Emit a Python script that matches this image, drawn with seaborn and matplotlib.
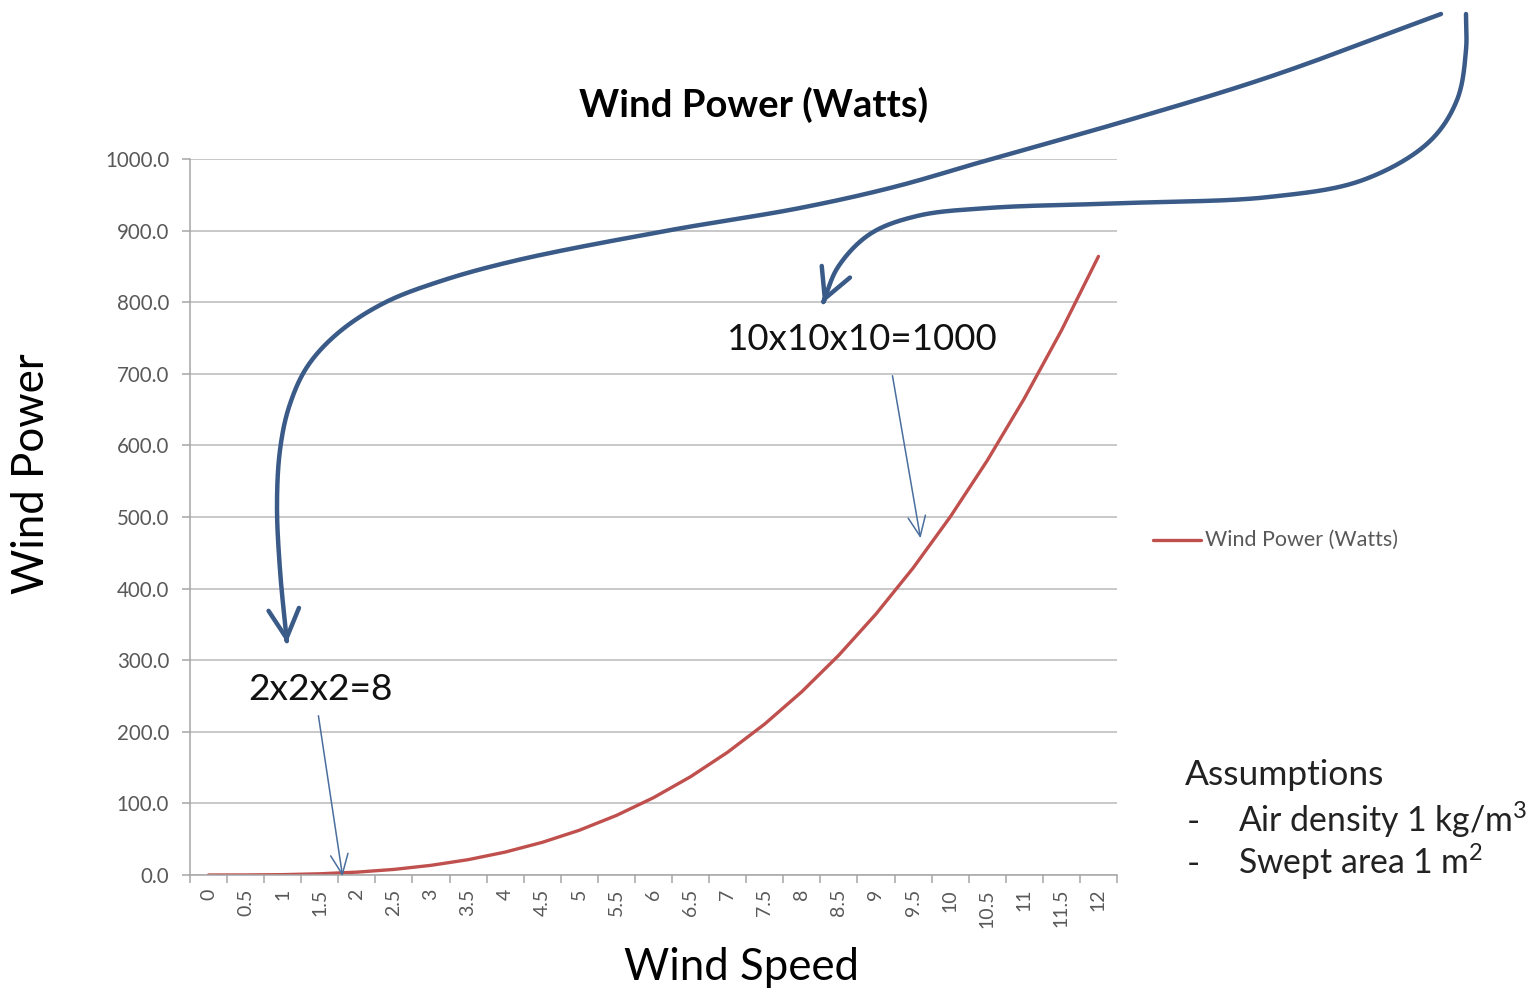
import numpy as np
import pandas as pd
import matplotlib
matplotlib.use("Agg")
import matplotlib.pyplot as plt
import seaborn as sns
from matplotlib.path import Path
from matplotlib.patches import FancyArrowPatch
from matplotlib.ticker import FixedLocator

# ---------------- data ----------------
wind_speed_labels = ["0", "0.5", "1", "1.5", "2", "2.5", "3", "3.5", "4", "4.5", "5",
                     "5.5", "6", "6.5", "7", "7.5", "8", "8.5", "9", "9.5", "10",
                     "10.5", "11", "11.5", "12"]
wind_power = [0.0, 0.06, 0.5, 1.7, 4.0, 7.8, 13.5, 21.4, 32.0, 45.6, 62.5, 83.2,
              108.0, 137.3, 171.5, 210.9, 256.0, 307.1, 364.5, 428.7, 500.0,
              578.8, 665.5, 760.4, 864.0]
y_tick_values = [0, 100, 200, 300, 400, 500, 600, 700, 800, 900, 1000]
y_tick_labels = ["0.0", "100.0", "200.0", "300.0", "400.0", "500.0", "600.0",
                 "700.0", "800.0", "900.0", "1000.0"]
series_name = "Wind Power (Watts)"

# ---------------- style ----------------
sns.set_theme(style="white")
plt.rcParams["font.family"] = ["Lato", "DejaVu Sans"]
plt.rcParams["mathtext.fontset"] = "custom"
plt.rcParams["mathtext.rm"] = "Lato"
plt.rcParams["mathtext.it"] = "Lato:italic"
plt.rcParams["mathtext.bf"] = "Lato:bold"

W, H = 1535, 992
fig = plt.figure(figsize=(W / 100, H / 100), dpi=100)
fig.patch.set_facecolor("white")


def fx(x):
    return x / W


def fy(y):
    return 1 - y / H


ax = fig.add_axes([fx(190), fy(875), fx(1117) - fx(190), fy(159) - fy(875)])

df = pd.DataFrame({"pos": np.arange(len(wind_speed_labels)),
                   "power": wind_power,
                   "series": series_name})
sns.lineplot(data=df, x="pos", y="power", hue="series", palette=["#C0504D"],
             linewidth=2.4, ax=ax, legend=False)

ax.set_xlim(-0.5, len(wind_speed_labels) - 0.5)
ax.set_ylim(0, 1000)
ax.set_xlabel("")
ax.set_ylabel("")

# y axis
ax.set_yticks(y_tick_values)
ax.set_yticklabels(y_tick_labels, fontsize=14.8, color="#595959")
ax.yaxis.grid(True, color="#C4C4C4", linewidth=1.3)
ax.xaxis.grid(False)
ax.tick_params(axis="y", length=6, width=1.1, color="#A6A6A6", left=True, pad=9)

# x axis (category axis, ticks between categories)
ax.set_xticks(np.arange(len(wind_speed_labels)))
ax.set_xticklabels(wind_speed_labels, rotation=90, fontsize=14, color="#595959",
                   va="top")
ax.tick_params(axis="x", which="major", length=0, pad=10)
ax.xaxis.set_minor_locator(FixedLocator(np.arange(-0.5, len(wind_speed_labels), 1.0)))
ax.tick_params(axis="x", which="minor", length=6, width=1.1, color="#A6A6A6",
               bottom=True, direction="out")

for side in ["top", "right"]:
    ax.spines[side].set_visible(False)
for side in ["left", "bottom"]:
    ax.spines[side].set_color("#A6A6A6")
    ax.spines[side].set_linewidth(1.1)

# ---------------- texts ----------------
fig.text(fx(754), fy(105), "Wind Power (Watts)", fontsize=27.5, fontweight="bold",
         ha="center", va="center", color="black")
fig.text(fx(741), fy(968), "Wind Speed", fontsize=31.5, ha="center", va="center",
         color="black")
fig.text(fx(32), fy(474), "Wind Power", fontsize=31.5, ha="center", va="center",
         rotation=90, color="black")

# legend
leg_line = plt.Line2D([fx(1153), fx(1201)], [fy(540), fy(540)], transform=fig.transFigure,
                      color="#C0504D", linewidth=2.4)
fig.add_artist(leg_line)
fig.text(fx(1205), fy(540), series_name, fontsize=15.5, ha="left", va="center",
         color="#595959")

# assumptions
txt_col = "#222222"
fig.text(fx(1185), fy(775), "Assumptions", fontsize=25.5, ha="left", va="center",
         color=txt_col)
fig.text(fx(1187), fy(822), "-", fontsize=25.5, ha="left", va="center", color=txt_col)
fig.text(fx(1238), fy(820), r"Air density 1 kg/m$^{3}$", fontsize=24.3, ha="left",
         va="center", color=txt_col)
fig.text(fx(1187), fy(864), "-", fontsize=25.5, ha="left", va="center", color=txt_col)
fig.text(fx(1238), fy(862), r"Swept area 1 m$^{2}$", fontsize=24.3, ha="left",
         va="center", color=txt_col)

# callouts
fig.text(fx(321), fy(690), "2x2x2=8", fontsize=26.7, ha="center", va="center",
         color="#111111")
fig.text(fx(862), fy(340), "10x10x10=1000", fontsize=26.4, ha="center", va="center",
         color="#111111")

thin_col = "#4A6E9E"
for (x0, y0), (x1, y1) in [((318, 713), (343, 879)), ((892, 373), (921, 541))]:
    fig.add_artist(FancyArrowPatch((fx(x0), fy(y0)), (fx(x1), fy(y1)),
                                   transform=fig.transFigure,
                                   arrowstyle="->,head_length=0.8,head_width=0.35",
                                   mutation_scale=18, linewidth=1.1, color=thin_col))


# ---------------- big curved annotation arrows ----------------
def catmull_rom(points, n=40, alpha=0.5):
    """Centripetal Catmull-Rom spline through the given waypoints."""
    p = np.asarray(points, dtype=float)
    p = np.vstack([2 * p[0] - p[1], p, 2 * p[-1] - p[-2]])
    out = []
    for i in range(1, len(p) - 2):
        P0, P1, P2, P3 = p[i - 1], p[i], p[i + 1], p[i + 2]
        t0 = 0.0
        t1 = t0 + np.linalg.norm(P1 - P0) ** alpha
        t2 = t1 + np.linalg.norm(P2 - P1) ** alpha
        t3 = t2 + np.linalg.norm(P3 - P2) ** alpha
        for t in np.linspace(t1, t2, n, endpoint=False):
            A1 = (t1 - t) / (t1 - t0) * P0 + (t - t0) / (t1 - t0) * P1
            A2 = (t2 - t) / (t2 - t1) * P1 + (t - t1) / (t2 - t1) * P2
            A3 = (t3 - t) / (t3 - t2) * P2 + (t - t2) / (t3 - t2) * P3
            B1 = (t2 - t) / (t2 - t0) * A1 + (t - t0) / (t2 - t0) * A2
            B2 = (t3 - t) / (t3 - t1) * A2 + (t - t1) / (t3 - t1) * A3
            out.append((t2 - t) / (t2 - t1) * B1 + (t - t1) / (t2 - t1) * B2)
    out.append(p[-2])
    return np.array(out)


arrow1_pts = [(1441, 14), (1269, 77), (1129, 120), (988, 160), (894, 187),
              (800, 208), (671, 230), (518, 260), (441, 281), (384, 303),
              (338, 333), (307, 367), (289, 407), (280, 450), (277, 505),
              (280, 570), (287, 643)]
arrow2_pts = [(1466, 14), (1466, 50), (1457, 100), (1429, 142), (1363, 180),
              (1269, 197), (1129, 203), (988, 208), (917, 216), (870, 234),
              (838, 267), (823, 303)]

big_col = "#3A5A88"
for pts in [arrow1_pts, arrow2_pts]:
    c = catmull_rom(pts)
    verts = np.column_stack([c[:, 0] / W, 1 - c[:, 1] / H])
    path = Path(verts)
    fig.add_artist(FancyArrowPatch(path=path, transform=fig.transFigure,
                                   arrowstyle="->,head_length=0.95,head_width=0.5",
                                   mutation_scale=22, linewidth=3.2, color=big_col,
                                   capstyle="round", joinstyle="round"))

fig.savefig("out.png", dpi=100, facecolor="white")
